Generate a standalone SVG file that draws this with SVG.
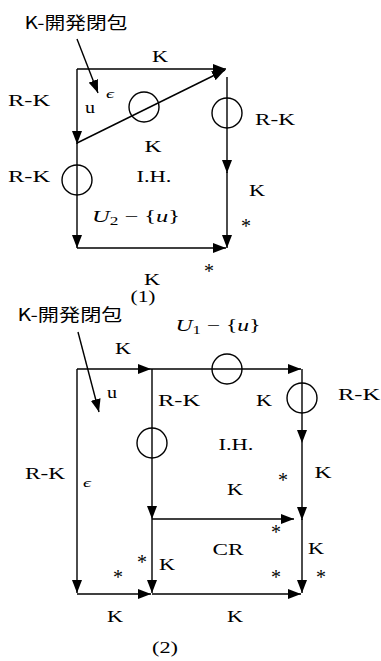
<svg xmlns="http://www.w3.org/2000/svg" width="381" height="661" viewBox="0 0 381 661">
<defs>
<marker id="ah" markerUnits="userSpaceOnUse" markerWidth="14" markerHeight="10" viewBox="0 0 14 10" refX="13" refY="5" orient="auto">
<path d="M0,0 L13,5 L0,10 Z" fill="#000"/>
</marker>
</defs>
<style>
.e{stroke:#000;stroke-width:1.4;fill:none;marker-end:url(#ah)}
.c{stroke:#000;stroke-width:1.4;fill:none}
.t{font-family:"Liberation Serif","DejaVu Serif",serif;font-size:17px;fill:#000;text-anchor:middle}
.s{font-family:"Liberation Serif","DejaVu Serif",serif;font-size:22px;fill:#000;text-anchor:middle;opacity:0.99}
.j{font-family:"Noto Sans CJK JP","Noto Sans",sans-serif;font-size:17px;fill:#000;text-anchor:middle}
.i{font-style:italic}
.g{opacity:0.99}
</style>
<rect width="381" height="661" fill="#fff"/>
<g id="connectors">
<line class="e" x1="77" y1="69" x2="226" y2="69"/>
<line class="e" x1="77" y1="69" x2="77" y2="144"/>
<line class="e" x1="77" y1="143" x2="225" y2="70"/>
<line class="e" x1="227" y1="77" x2="227" y2="173"/>
<line class="e" x1="227" y1="172" x2="227" y2="248"/>
<line class="e" x1="77" y1="143" x2="77" y2="248"/>
<line class="e" x1="77" y1="248" x2="226" y2="248"/>
<line class="e" x1="77" y1="39" x2="98" y2="93"/>
<line class="e" x1="78" y1="332" x2="99" y2="412"/>
<line class="e" x1="77" y1="369" x2="151" y2="369"/>
<line class="e" x1="151" y1="369" x2="301" y2="369"/>
<line class="e" x1="302" y1="369" x2="302" y2="443"/>
<line class="e" x1="302" y1="443" x2="302" y2="520"/>
<line class="e" x1="302" y1="519" x2="302" y2="593"/>
<line class="e" x1="152" y1="369" x2="152" y2="519"/>
<line class="e" x1="152" y1="519" x2="152" y2="593"/>
<line class="e" x1="77" y1="369" x2="77" y2="593"/>
<line class="e" x1="152" y1="519" x2="294" y2="519"/>
<line class="e" x1="77" y1="594" x2="151" y2="594"/>
<line class="e" x1="152" y1="594" x2="301" y2="594"/>
</g>
<g id="circles">
<circle class="c" cx="144" cy="107" r="15"/>
<circle class="c" cx="227" cy="113" r="15"/>
<circle class="c" cx="77" cy="180" r="15"/>
<circle class="c" cx="227" cy="369" r="15"/>
<circle class="c" cx="302" cy="398" r="15"/>
<circle class="c" cx="152" cy="443" r="15"/>
</g>
<g id="labels1">
<text class="j" x="76" y="29" textLength="103" lengthAdjust="spacingAndGlyphs">K-開発閉包</text>
<text class="t" x="160" y="62" textLength="16" lengthAdjust="spacingAndGlyphs">K</text>
<text class="t" x="29" y="106" textLength="42" lengthAdjust="spacingAndGlyphs">R-K</text>
<text class="t" x="90" y="113" textLength="10" lengthAdjust="spacingAndGlyphs">u</text>
<text class="t i g" x="110" y="98" style="font-size:13px" textLength="8" lengthAdjust="spacingAndGlyphs">ϵ</text>
<text class="t" x="153" y="152" textLength="17" lengthAdjust="spacingAndGlyphs">K</text>
<text class="t" x="275" y="125" textLength="40" lengthAdjust="spacingAndGlyphs">R-K</text>
<text class="t" x="29" y="182" textLength="42" lengthAdjust="spacingAndGlyphs">R-K</text>
<text class="t" x="154" y="182" textLength="35" lengthAdjust="spacingAndGlyphs">I.H.</text>
<text class="t" x="257" y="196" textLength="16" lengthAdjust="spacingAndGlyphs">K</text>
<text class="t" x="136" y="222" textLength="88" lengthAdjust="spacingAndGlyphs"><tspan class="i">U</tspan><tspan font-size="12" dy="3">2</tspan><tspan dy="-3"> − {</tspan><tspan class="i">u</tspan>}</text>
<text class="s" x="246" y="233" textLength="10" lengthAdjust="spacingAndGlyphs">*</text>
<text class="s" x="209" y="278" textLength="10" lengthAdjust="spacingAndGlyphs">*</text>
<text class="t" x="152" y="285" textLength="16" lengthAdjust="spacingAndGlyphs">K</text>
<text class="t" x="143" y="302" textLength="25" lengthAdjust="spacingAndGlyphs">(1)</text>
</g>
<g id="labels2">
<text class="j" x="70" y="321" textLength="105" lengthAdjust="spacingAndGlyphs">K-開発閉包</text>
<text class="t" x="218" y="331" textLength="85" lengthAdjust="spacingAndGlyphs"><tspan class="i">U</tspan><tspan font-size="12" dy="3">1</tspan><tspan dy="-3"> − {</tspan><tspan class="i">u</tspan>}</text>
<text class="t" x="123" y="354" textLength="16" lengthAdjust="spacingAndGlyphs">K</text>
<text class="t" x="112" y="398" textLength="10" lengthAdjust="spacingAndGlyphs">u</text>
<text class="t" x="179" y="406" textLength="42" lengthAdjust="spacingAndGlyphs">R-K</text>
<text class="t" x="264" y="406" textLength="16" lengthAdjust="spacingAndGlyphs">K</text>
<text class="t" x="359" y="400" textLength="42" lengthAdjust="spacingAndGlyphs">R-K</text>
<text class="t" x="236" y="450" textLength="35" lengthAdjust="spacingAndGlyphs">I.H.</text>
<text class="t" x="45" y="479" textLength="40" lengthAdjust="spacingAndGlyphs">R-K</text>
<text class="t i g" x="87" y="487" style="font-size:13px" textLength="8" lengthAdjust="spacingAndGlyphs">ϵ</text>
<text class="s" x="283" y="487" textLength="10" lengthAdjust="spacingAndGlyphs">*</text>
<text class="t" x="323" y="478" textLength="17" lengthAdjust="spacingAndGlyphs">K</text>
<text class="t" x="235" y="495" textLength="16" lengthAdjust="spacingAndGlyphs">K</text>
<text class="s" x="276" y="539" textLength="10" lengthAdjust="spacingAndGlyphs">*</text>
<text class="t" x="228" y="555" textLength="31" lengthAdjust="spacingAndGlyphs">CR</text>
<text class="t" x="316" y="554" textLength="16" lengthAdjust="spacingAndGlyphs">K</text>
<text class="s" x="142" y="569" textLength="10" lengthAdjust="spacingAndGlyphs">*</text>
<text class="t" x="167" y="570" textLength="16" lengthAdjust="spacingAndGlyphs">K</text>
<text class="s" x="118" y="584" textLength="10" lengthAdjust="spacingAndGlyphs">*</text>
<text class="s" x="276" y="584" textLength="10" lengthAdjust="spacingAndGlyphs">*</text>
<text class="s" x="321" y="584" textLength="10" lengthAdjust="spacingAndGlyphs">*</text>
<text class="t" x="115" y="622" textLength="16" lengthAdjust="spacingAndGlyphs">K</text>
<text class="t" x="235" y="622" textLength="16" lengthAdjust="spacingAndGlyphs">K</text>
<text class="t" x="165" y="653" textLength="26" lengthAdjust="spacingAndGlyphs">(2)</text>
</g>
</svg>
